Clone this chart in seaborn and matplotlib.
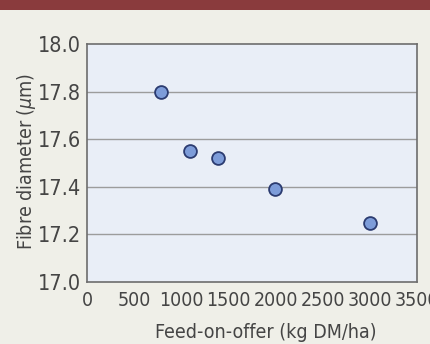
import matplotlib
matplotlib.use("Agg")
import matplotlib.pyplot as plt
import pandas as pd
import seaborn as sns
from matplotlib.patches import Rectangle

# Data
feed_on_offer = [780, 1090, 1390, 1990, 3000]
fibre_diameter = [17.80, 17.55, 17.52, 17.39, 17.25]
x_ticks = [0, 500, 1000, 1500, 2000, 2500, 3000, 3500]
y_ticks = [17.0, 17.2, 17.4, 17.6, 17.8, 18.0]

df = pd.DataFrame({"feed": feed_on_offer, "diam": fibre_diameter})

sns.set_style("white")
plt.rcParams["font.family"] = ["DejaVu Sans"]
plt.rcParams["font.stretch"] = "condensed"
plt.rcParams["mathtext.fontset"] = "dejavusans"

text_col = "#454545"

fig = plt.figure(figsize=(4.30, 3.44), dpi=100, facecolor="#efefe8")
# dark red band across the top
fig.patches.append(Rectangle((0, 0.970), 1, 0.03, transform=fig.transFigure,
                             facecolor="#8a3b3d", edgecolor="none"))

ax = fig.add_axes([0.2023, 0.180, 0.7675, 0.692])
ax.set_facecolor("#e9eef7")

for yv in y_ticks[1:-1]:
    ax.axhline(yv, color="#9c9c9c", lw=1.0, zorder=1)

sns.scatterplot(data=df, x="feed", y="diam", ax=ax, s=85,
                color="#7d9cd9", edgecolor="#2b3b70", linewidth=1.3, zorder=3)

ax.set_xlim(0, 3500)
ax.set_ylim(17.0, 18.0)
ax.set_xticks(x_ticks)
ax.set_yticks(y_ticks)
ax.set_xticklabels([str(v) for v in x_ticks], fontsize=14, color=text_col)
ax.set_yticklabels([f"{v:.1f}" for v in y_ticks], fontsize=15.5, color=text_col)
ax.tick_params(axis="x", direction="in", length=5, width=1, color="#6d6d6d", pad=6.5)
ax.tick_params(axis="y", direction="out", length=3, width=1, color="#6d6d6d", pad=1)

ax.set_xlabel("Feed-on-offer (kg DM/ha)", fontsize=14, color=text_col)
ax.set_ylabel(r"Fibre diameter ($\mu$m)", fontsize=14, color=text_col)
ax.xaxis.set_label_coords(0.542, -0.21)
ax.yaxis.set_label_coords(-0.182, 0.505)
ax.xaxis.label.set_va("center")
ax.yaxis.label.set_va("center")

for sp in ax.spines.values():
    sp.set_visible(True)
    sp.set_color("#6d6d6d")
    sp.set_linewidth(1.2)

fig.savefig("out.png", dpi=100, facecolor=fig.get_facecolor())
